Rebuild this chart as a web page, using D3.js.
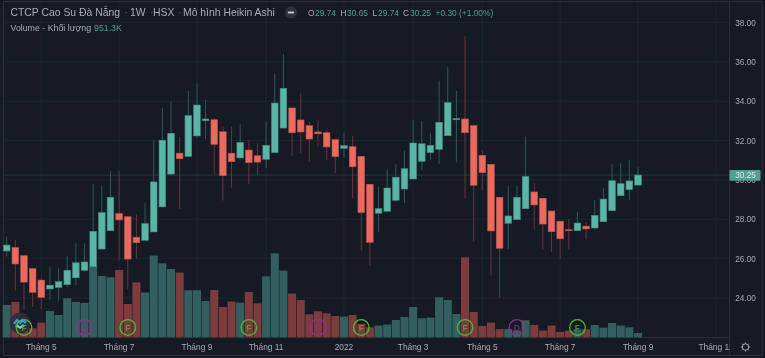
<!DOCTYPE html>
<html><head><meta charset="utf-8">
<script src="https://cdn.jsdelivr.net/npm/d3@7"></script>
<style>html,body{margin:0;padding:0;background:#161a25;overflow:hidden}svg{display:block;filter:blur(.35px)}text{font-family:"Liberation Sans",Arial,sans-serif}</style>
</head><body><svg id="c" width="765" height="358"></svg>
<script>
const opens=[26.39,26.56,26.15,25.49,24.91,24.46,24.54,24.68,25.03,25.41,25.59,26.49,27.42,28.29,28.13,27.09,26.93,27.36,28.63,30.30,31.36,31.20,32.24,33.01,33.06,32.45,31.36,31.12,31.52,31.23,31.05,31.39,32.64,33.66,33.05,32.76,32.44,32.40,32.05,31.61,31.69,31.20,29.78,28.31,28.41,28.97,29.54,30.05,30.95,31.39,31.56,32.25,33.06,33.10,32.76,31.25,30.80,29.12,27.80,27.98,28.54,29.39,29.07,28.42,27.90,27.47,27.42,27.65,27.56,27.88,28.44,29.20,29.51,29.74];
const closes=[26.69,25.73,24.81,24.29,24.03,24.65,24.83,25.41,25.79,25.83,27.39,28.34,29.12,27.97,25.98,26.81,27.78,29.90,32.02,32.37,31.08,33.27,33.81,33.10,31.81,30.22,30.93,31.91,30.88,30.91,31.76,33.91,34.66,32.40,32.44,32.08,32.35,31.68,31.18,31.74,30.67,28.34,26.83,28.54,29.59,30.14,30.57,31.88,31.84,31.76,32.93,33.93,33.12,32.40,29.73,30.37,27.41,26.53,28.17,29.12,30.17,28.73,27.76,27.37,27.01,27.42,27.81,27.51,28.20,29.03,29.96,29.81,29.95,30.25];
const highs=[27.12,26.95,26.19,25.51,25.05,25.59,25.51,26.13,26.78,26.78,29.80,29.69,30.46,30.46,28.14,28.26,28.84,32.03,33.67,34.02,32.20,34.52,34.91,34.07,33.14,32.71,32.71,32.83,32.03,31.86,32.95,35.42,36.39,33.66,34.41,32.96,33.07,32.51,32.05,32.40,32.25,31.20,29.78,29.66,30.54,30.81,31.49,33.05,33.00,32.37,35.05,35.73,34.52,37.32,32.76,31.49,30.80,29.12,29.69,29.69,32.20,29.83,29.07,28.42,27.90,28.00,28.39,27.85,28.98,29.58,30.80,30.85,31.00,30.65];
const lows=[26.10,24.37,23.39,23.54,23.44,23.90,23.81,24.56,24.66,25.34,25.34,26.44,27.41,25.90,24.44,25.98,26.93,27.36,28.62,30.25,28.52,31.18,32.13,32.07,30.30,28.95,29.61,31.12,29.78,30.25,30.62,31.39,32.64,31.22,31.36,30.93,31.69,31.02,30.35,31.13,29.08,26.40,25.64,27.37,28.41,28.88,28.83,30.05,30.51,31.02,30.81,32.25,30.90,29.07,26.86,29.49,25.15,24.02,26.48,27.98,28.54,27.49,26.44,26.35,26.00,26.48,27.42,26.98,27.49,27.88,28.44,29.20,28.98,29.74];
const volumes=[7140,7800,3100,2000,3250,5810,4930,8620,7800,7580,15760,13550,13260,14870,7360,12160,9880,18060,16350,15090,14300,10390,10390,8020,10450,6700,7890,7670,10010,7510,13480,18560,14740,9660,8240,5080,5750,5300,4710,4570,4930,2940,2210,2590,2810,3820,4490,6700,4200,4350,8840,8240,5150,17680,5590,2500,3250,1830,1830,1480,3760,2720,1480,2590,1170,1480,1770,1770,2720,2140,3160,2590,2210,951.3];
const priceTicks=[24,26,28,30,32,34,36,38];
const timeIdx=[4,13,22,30,39,47,55,64,73,82];
const timeLabels=["Tháng 5","Tháng 7","Tháng 9","Tháng 11","2022","Tháng 3","Tháng 5","Tháng 7","Tháng 9","Tháng 11"];
const divF=[2,14,28,41,53,66];
const divD=[9,36,59];
const lastPrice=30.25;

const UP="#5ab5a5",DOWN="#ea6a5e",UPB="#428f84",DOWNB="#bd5750",UPW="#2b5a59",DOWNW="#6a3437",UPV="#33605f",DOWNV="#7c3b3d";
const GRID="#1e2330",TXT="#a9acb5";
const x=d3.scaleLinear().domain([0,73]).range([6.7,638]);
const y=d3.scaleLinear().domain([24,38]).range([298,22.6]);
const yv=d3.scaleLinear().domain([0,18560]).range([337.3,253.3]);
const svg=d3.select("#c");
svg.append("rect").attr("width",765).attr("height",358).attr("fill","#161a25");
const W=729.5,H=337.5;
const chart=svg.append("g");
chart.selectAll(".gh").data(priceTicks).join("line").attr("x1",4).attr("x2",W).attr("y1",d=>y(d)).attr("y2",d=>y(d)).attr("stroke",GRID);
chart.selectAll(".gv").data(timeIdx).join("line").attr("x1",d=>x(d)).attr("x2",d=>x(d)).attr("y1",2).attr("y2",H).attr("stroke",GRID);
const frame=[[3.5,1,3.5,355],[3.5,1.5,762,1.5],[W,1,W,355],[3.5,H,W,H],[3.5,355.5,762,355.5],[762,1,762,355]];
svg.selectAll(".fr").data(frame).join("line").attr("x1",d=>d[0]).attr("y1",d=>d[1]).attr("x2",d=>d[2]).attr("y2",d=>d[3]).attr("stroke","#2a2e39");
const idx=d3.range(opens.length);
const isUp=i=>closes[i]>=opens[i];
const step=x(1)-x(0);
svg.append("g").selectAll("rect").data(idx).join("rect").attr("x",i=>x(i)-step/2+.3).attr("width",step-.6)
 .attr("y",i=>yv(volumes[i])).attr("height",i=>yv(0)-yv(volumes[i])).attr("fill",i=>isUp(i)?UPV:DOWNV);
svg.append("line").attr("x1",4).attr("x2",W).attr("y1",y(lastPrice)).attr("y2",y(lastPrice)).attr("stroke","#24393f").attr("stroke-width",1);
svg.append("g").selectAll("line").data(idx).join("line").attr("x1",i=>x(i)).attr("x2",i=>x(i)).attr("y1",i=>y(highs[i])).attr("y2",i=>y(lows[i]))
 .attr("stroke",i=>isUp(i)?UPW:DOWNW).attr("stroke-width",1);
svg.append("g").selectAll("rect").data(idx).join("rect").attr("x",i=>x(i)-3.3).attr("width",6.6)
 .attr("y",i=>y(Math.max(opens[i],closes[i]))).attr("height",i=>Math.max(.8,Math.abs(y(opens[i])-y(closes[i]))))
 .attr("fill",i=>isUp(i)?UP:DOWN).attr("stroke",i=>isUp(i)?UPB:DOWNB).attr("stroke-width",.6);
const mark=(arr,col,t)=>{const g=svg.append("g").selectAll("g").data(arr).join("g").attr("transform",d=>`translate(${x(d)},327.5)`);
 g.append("circle").attr("r",7.8).attr("fill","none").attr("stroke",col).attr("stroke-width",1.3);
 g.append("text").attr("text-anchor","middle").attr("y",3.2).attr("font-size",8.5).attr("font-weight",700).attr("fill",col).attr("fill-opacity",.75).text(t);};
const logo=svg.append("g").attr("transform","translate(20,323)");
logo.append("circle").attr("r",10.5).attr("fill","#2b2f3b").attr("fill-opacity",.92);
logo.append("path").attr("d","M-7 0 L-3 -4.5 L0 -2 L3 -4.5 L7 -1 L5 1 L3 -1 L0 1.5 L-3 -1 L-5 1.5 Z").attr("fill","#3b96e6");
logo.append("path").attr("d","M-5 3 L-3 1 L0 3.5 L3 1 L5 3 L0 6 Z").attr("fill","#6fd0d8");
mark(divF,"#4fb62f","F");
mark(divD,"#962c96","D");
svg.append("g").selectAll("text").data(priceTicks).join("text").attr("x",745.5).attr("y",d=>y(d)+2.9).attr("text-anchor","middle").attr("font-size",8.2).attr("fill",TXT).text(d=>d.toFixed(2));
svg.append("rect").attr("x",729.5).attr("y",170).attr("width",31).attr("height",10.8).attr("rx",1).attr("fill","#4f9f92");
svg.append("text").attr("x",745.5).attr("y",y(lastPrice)+3).attr("text-anchor","middle").attr("font-size",8.2).attr("fill","#dcecE9").text(lastPrice.toFixed(2));
const ta=svg.append("g");
ta.append("clipPath").attr("id","tc").append("rect").attr("x",0).attr("y",338).attr("width",W).attr("height",17);
ta.append("g").attr("clip-path","url(#tc)").selectAll("text").data(timeIdx).join("text").attr("x",d=>x(d)).attr("y",349.8).attr("text-anchor","middle").attr("font-size",8.4).attr("fill",TXT).text((d,i)=>timeLabels[i]);
const gear=svg.append("g").attr("transform","translate(745.5,347)");
gear.append("circle").attr("r",3.2).attr("fill","none").attr("stroke",TXT).attr("stroke-width",1);
gear.selectAll("line").data(d3.range(8)).join("line").attr("x1",d=>3.2*Math.cos(d*Math.PI/4)).attr("y1",d=>3.2*Math.sin(d*Math.PI/4)).attr("x2",d=>4.6*Math.cos(d*Math.PI/4)).attr("y2",d=>4.6*Math.sin(d*Math.PI/4)).attr("stroke",TXT);
const head=[["CTCP Cao Su Đà Nẵng",10.5],["·",124.5],["1W",130],["·",150],["HSX",153],["·",178],["Mô hình Heikin Ashi",183]];
svg.append("g").selectAll("text").data(head).join("text").attr("x",d=>d[1]).attr("y",16).attr("font-size",10.4).attr("fill",d=>d[0]==="·"?"#5a5e69":TXT).text(d=>d[0]);
svg.append("circle").attr("cx",291).attr("cy",12.5).attr("r",6).attr("fill","#2f3340");
svg.append("rect").attr("x",287.7).attr("y",11.6).attr("width",6.6).attr("height",1.8).attr("rx",.9).attr("fill","#c8cad0");
const UPT="#4f9f92";
const ohlc=[["O",308,TXT],["29.74",315,UPT],["H",340.5,TXT],["30.65",347,UPT],["L",372.5,TXT],["29.74",378,UPT],["C",403,TXT],["30.25",410,UPT],["+0.30 (+1.00%)",435.5,UPT]];
svg.append("g").selectAll("text").data(ohlc).join("text").attr("x",d=>d[1]).attr("y",16).attr("font-size",8.4).attr("fill",d=>d[2]).text(d=>d[0]);
svg.append("text").attr("x",10.5).attr("y",31).attr("font-size",8.8).attr("fill",TXT).text("Volume - Khối lượng");
svg.append("text").attr("x",94).attr("y",31).attr("font-size",8.8).attr("fill",UPT).text("951.3K");
</script></body></html>
